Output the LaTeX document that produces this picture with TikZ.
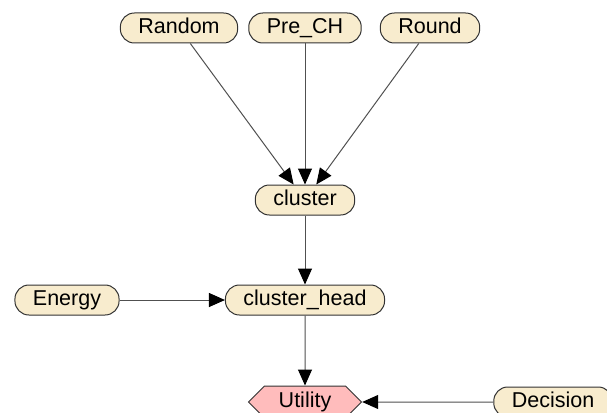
\documentclass[tikz,border=0pt]{standalone}
\usepackage{fontspec}
\setmainfont{Liberation Sans}
\usepackage{xcolor}
\usepackage{tikz}
\usetikzlibrary{shapes.symbols, arrows.meta}

\definecolor{chancefill}{RGB}{248,236,206}
\definecolor{utilfill}{RGB}{255,188,188}
\definecolor{edgegray}{RGB}{50,50,50}
\definecolor{linkgray}{RGB}{80,80,80}

\begin{document}
\begin{tikzpicture}[x=1pt, y=-1pt,
    chance/.style={draw=edgegray, fill=chancefill, line width=1pt, rounded corners=14pt,
        minimum height=30pt, inner xsep=18pt, inner ysep=0pt, text height=15pt, text depth=4pt,
        font=\fontsize{21.5}{25}\selectfont},
    utility/.style={signal, signal to=west and east, signal pointer angle=90, draw=edgegray,
        fill=utilfill, line width=1pt, minimum width=113pt, minimum height=32pt, inner ysep=0pt,
        text height=15pt, text depth=4pt, font=\fontsize{21.5}{25}\selectfont},
    link/.style={draw=linkgray, line width=1pt, -{Triangle[length=16pt, width=14pt, color=black]}}
]
    \clip (0,0) rectangle (607,412);

    % Parents of cluster
    \node[chance] (random) at (179,28) {Random};
    \node[chance] (prech) at (305,28) {Pre\_CH};
    \node[chance] (round) at (430,28) {Round};

    % Middle chain
    \node[chance] (cluster) at (305,200) {cluster};
    \node[chance] (energy) at (67,300) {Energy};
    \node[chance] (clusterhead) at (305,300) {cluster\_head};

    % Utility and decision
    \node[utility] (utility) at (305,402) {Utility};
    \node[chance] (decision) at (553,402) {Decision};

    % Links
    \draw[link] (random) -- (cluster);
    \draw[link] (prech) -- (cluster);
    \draw[link] (round) -- (cluster);
    \draw[link] (cluster) -- (clusterhead);
    \draw[link] (energy) -- (clusterhead);
    \draw[link] (clusterhead) -- (utility);
    \draw[link] (decision) -- (utility);
\end{tikzpicture}
\end{document}
